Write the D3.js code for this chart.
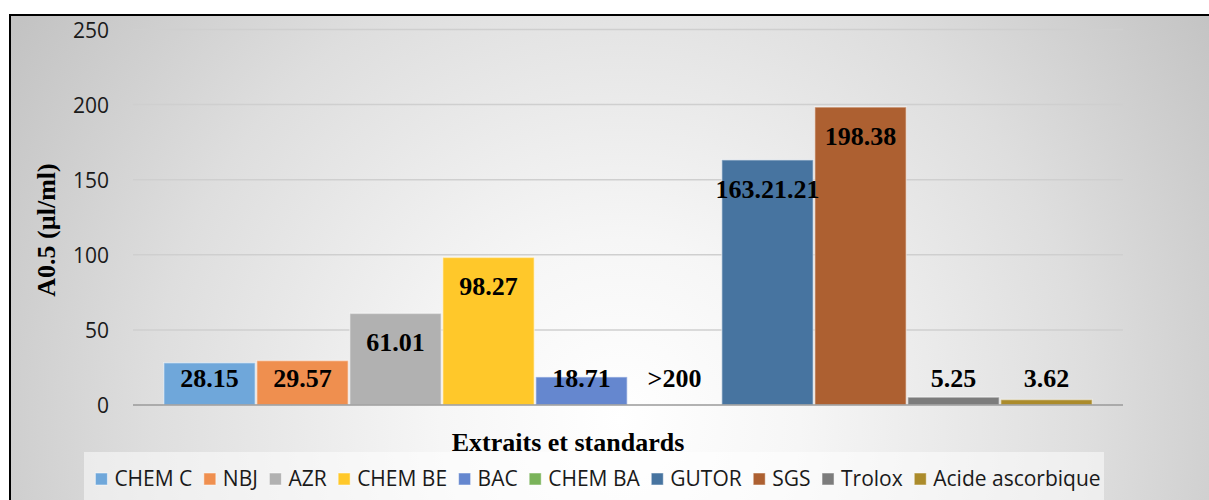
<!DOCTYPE html>
<html>
<head>
<meta charset="utf-8">
<script src="https://cdn.jsdelivr.net/npm/d3@7/dist/d3.min.js"></script>
<style>
  html, body { margin: 0; padding: 0; background: #ffffff; }
  svg { display: block; }
</style>
</head>
<body>
<svg id="chart" width="1209" height="500"></svg>
<script>
// Extracts and reference standards
const categories = ["CHEM C", "NBJ", "AZR", "CHEM BE", "BAC", "CHEM BA", "GUTOR", "SGS", "Trolox", "Acide ascorbique"];
// A0.5 values (µl/ml); CHEM BA is above the measured range, so it has no bar
const values = [28.15, 29.57, 61.01, 98.27, 18.71, null, 163.21, 198.38, 5.25, 3.62];
const valueLabels = ["28.15", "29.57", "61.01", "98.27", "18.71", ">200", "163.21.21", "198.38", "5.25", "3.62"];
const colors = ["#6fa7da", "#ef8f4f", "#b1b1b1", "#ffc82a", "#6587cf", "#7ab35a", "#4774a0", "#ad6031", "#7c7c7c", "#ab8b2b"];
const yTicks = [0, 50, 100, 150, 200, 250];

const svg = d3.select("#chart");
const W = 1209, H = 500;

// Chart-area background: soft grey path gradient, white toward the middle
const defs = svg.append("defs");
const grad = defs.append("radialGradient")
  .attr("id", "bg")
  .attr("gradientUnits", "userSpaceOnUse")
  .attr("cx", 620).attr("cy", 420).attr("r", 720);
[[0, "#ffffff"], [0.25, "#f6f6f6"], [0.65, "#dedede"], [1, "#c3c3c3"]]
  .forEach(([o, c]) => grad.append("stop").attr("offset", o).attr("stop-color", c));

svg.append("rect").attr("x", 10).attr("y", 15).attr("width", W).attr("height", H)
  .attr("fill", "url(#bg)");

const plotLeft = 133, plotRight = 1123;
const y = d3.scaleLinear().domain([0, 250]).range([405, 29.5]);
const x = d3.scaleBand().domain(categories).range([163, 1093]).padding(0);

// Horizontal gridlines
svg.append("g").selectAll("line")
  .data(yTicks.filter(t => t > 0))
  .join("line")
  .attr("x1", plotLeft).attr("x2", plotRight)
  .attr("y1", d => y(d)).attr("y2", d => y(d))
  .attr("stroke", "#cfcfcf").attr("stroke-width", 1.5);

// Value axis labels
const yAxis = d3.axisLeft(y).tickValues(yTicks).tickSize(0).tickPadding(0);
const yg = svg.append("g").attr("transform", "translate(109,0)").call(yAxis);
yg.select(".domain").remove();
yg.selectAll("text")
  .attr("font-family", "'Open Sans', sans-serif")
  .attr("font-size", 21)
  .attr("fill", "#1a1a1a")
  .attr("dy", "0.36em");

// Bars
svg.append("g").selectAll("rect")
  .data(categories.map((c, i) => ({ c, v: values[i], color: colors[i] })).filter(d => d.v != null))
  .join("rect")
  .attr("x", d => x(d.c) + 0.75)
  .attr("width", x.bandwidth() - 1.5)
  .attr("y", d => y(d.v))
  .attr("height", d => y(0) - y(d.v))
  .attr("fill", d => d.color)
  .attr("stroke", "rgba(255,255,255,0.45)")
  .attr("stroke-width", 1.5);

// Category axis baseline
svg.append("line")
  .attr("x1", plotLeft).attr("x2", plotRight)
  .attr("y1", y(0)).attr("y2", y(0))
  .attr("stroke", "#9a9a9a").attr("stroke-width", 1.5);

// Data labels: inside the top of tall bars, just above the baseline otherwise
svg.append("g").selectAll("text")
  .data(categories.map((c, i) => ({ c, v: values[i], t: valueLabels[i] })))
  .join("text")
  .attr("x", d => x(d.c) + x.bandwidth() / 2)
  .attr("y", d => Math.min(y(d.v == null ? 0 : d.v) + 29, y(0) - 27))
  .attr("dy", "0.35em")
  .attr("text-anchor", "middle")
  .attr("font-family", "'Liberation Serif', 'Times New Roman', serif")
  .attr("font-weight", "bold")
  .attr("font-size", 26)
  .attr("fill", "#000")
  .text(d => d.t);

// Axis titles
svg.append("text")
  .attr("transform", "translate(55,230) rotate(-90)")
  .attr("text-anchor", "middle")
  .attr("font-family", "'Liberation Serif', 'Times New Roman', serif")
  .attr("font-weight", "bold")
  .attr("font-size", 26)
  .text("A0.5 (µl/ml)");

svg.append("text")
  .attr("x", 568).attr("y", 451)
  .attr("text-anchor", "middle")
  .attr("font-family", "'Liberation Serif', 'Times New Roman', serif")
  .attr("font-weight", "bold")
  .attr("font-size", 26)
  .text("Extraits et standards");

// Legend
svg.append("rect")
  .attr("x", 84).attr("y", 452).attr("width", 1020).attr("height", 60)
  .attr("fill", "#ffffff").attr("fill-opacity", 0.5);

const legend = svg.append("g");
const sw = 12, gapText = 7, gapItem = 11.5, legendFont = 21;
const items = legend.selectAll("g").data(categories).join("g");
items.append("text")
  .attr("font-family", "'Open Sans', sans-serif")
  .attr("font-size", legendFont)
  .attr("fill", "#1a1a1a")
  .attr("dy", "0.35em")
  .text(d => d);
const widths = [];
items.each(function () { widths.push(d3.select(this).select("text").node().getComputedTextLength()); });
const total = d3.sum(widths) + categories.length * (sw + gapText) + (categories.length - 1) * gapItem;
let cursor = 598 - total / 2;
items.each(function (d, i) {
  const g = d3.select(this).attr("transform", `translate(${cursor},479)`);
  g.insert("rect", "text")
    .attr("x", 0).attr("y", -sw / 2).attr("width", sw).attr("height", sw)
    .attr("fill", colors[i])
    .attr("stroke", "rgba(255,255,255,0.5)").attr("stroke-width", 1);
  g.select("text").attr("x", sw + gapText);
  cursor += sw + gapText + widths[i] + gapItem;
});

// Outer frame
svg.append("path")
  .attr("d", `M${W + 5},15 H10 V${H + 5}`)
  .attr("fill", "none").attr("stroke", "#000").attr("stroke-width", 2);
</script>
</body>
</html>
